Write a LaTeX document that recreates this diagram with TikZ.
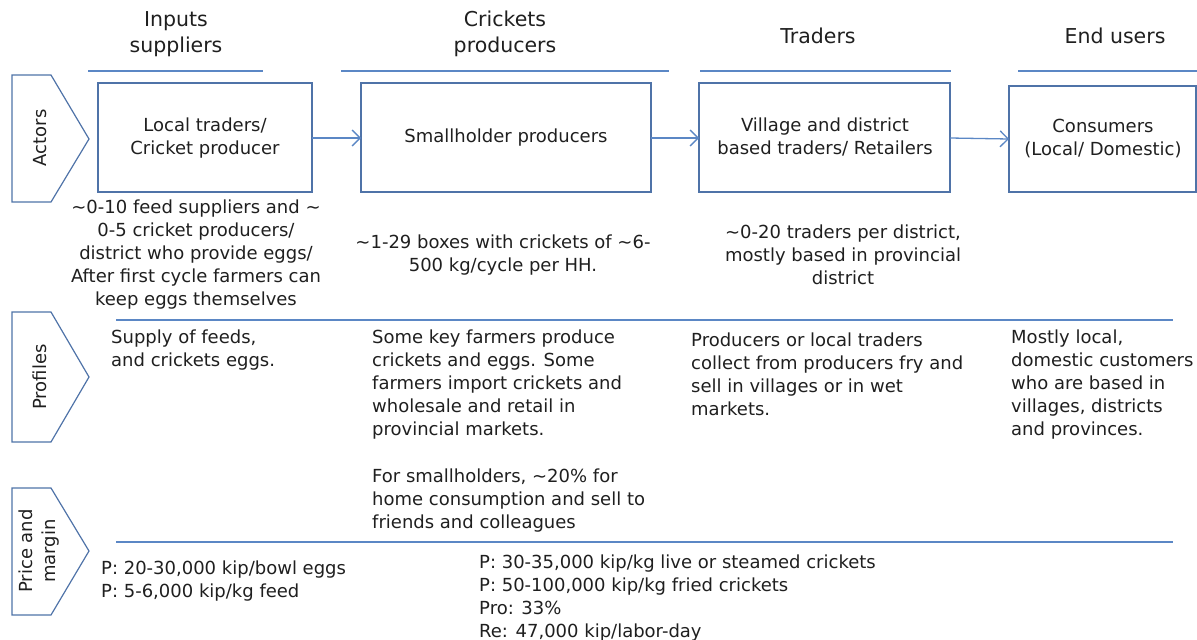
\documentclass[tikz,border=0pt]{standalone}
\usepackage{fontspec}
\setmainfont{DejaVu Sans}
\usetikzlibrary{arrows.meta}
\definecolor{rule}{HTML}{5B87C5}
\definecolor{edge}{HTML}{4F73A8}
\definecolor{ink}{HTML}{1F1F1F}
\begin{document}
\begin{tikzpicture}[x=1pt,y=-1pt,
  txt/.style={font=\fontsize{18}{23}\selectfont,text=ink,inner sep=0pt},
  head/.style={font=\fontsize{20.5}{26}\selectfont,text=ink,inner sep=0pt,align=center},
  ctxt/.style={txt,align=center},
  ltxt/.style={txt,align=left,anchor=north west},
  actor/.style={draw=edge,line width=1.3pt,inner sep=0pt},
  sep/.style={draw=rule,line width=1.3pt},
  flow/.style={draw=rule,line width=1.3pt,-{Straight Barb[length=8pt,width=16pt]}},
  chev/.style={draw=edge,line width=1.2pt},
  side/.style={txt,rotate=90,align=center}]
\useasboundingbox (0,0) rectangle (1197,640);

% column headings and their rules
\node[head] (h1) at (176,34) {Inputs\\suppliers};
\node[head] (h2) at (505,34) {Crickets\\producers};
\node[head] (h3) at (818,36) {Traders};
\node[head] (h4) at (1115,36) {End users};
\coordinate (r1a) at (88,71);  \coordinate (r1b) at (263,71);
\coordinate (r2a) at (341,71); \coordinate (r2b) at (669,71);
\coordinate (r3a) at (700,71); \coordinate (r3b) at (951,71);
\coordinate (r4a) at (1018,71); \coordinate (r4b) at (1197,71);
\draw[sep] (r1a) -- (r1b);
\draw[sep] (r2a) -- (r2b);
\draw[sep] (r3a) -- (r3b);
\draw[sep] (r4a) -- (r4b);

% row chevrons
\draw[chev] (12,75) -- (51,75) -- (89,139) -- (51,202) -- (12,202) -- cycle;
\draw[chev] (12,312) -- (51,312) -- (89,377) -- (51,442) -- (12,442) -- cycle;
\draw[chev] (12,488) -- (51,488) -- (89,551) -- (51,615) -- (12,615) -- cycle;
\node[side] (lab1) at (40,138) {Actors};
\node[side] (lab2) at (40,377) {Profiles};
\node[side] (lab3) at (39,551) {Price and\\margin};

% actor boxes
\path[actor] (98,83) rectangle (312,192);
\path[actor] (361,83) rectangle (651,192);
\path[actor] (699,83) rectangle (950,192);
\path[actor] (1009,86) rectangle (1196,192);
\coordinate (b1w) at (98,138);  \coordinate (b1e) at (312,138);
\coordinate (b2w) at (361,138); \coordinate (b2e) at (651,138);
\coordinate (b3w) at (699,138); \coordinate (b3e) at (950,138);
\coordinate (b4w) at (1009,139);
\node[ctxt] (a1) at (205,138) {Local traders/\\Cricket producer};
\node[ctxt] (a2) at (506,138) {Smallholder producers};
\node[ctxt] (a3) at (825,137) {Village and district\\based traders/ Retailers};
\node[ctxt] (a4) at (1103,139) {Consumers\\(Local/ Domestic)};
\draw[flow] (b1e) -- (b2w);
\draw[flow] (b2e) -- (b3w);
\draw[flow] (b3e) -- (b4w);

% counts below the boxes
\node[ctxt] (n1) at (196,255) {\textasciitilde0-10 feed suppliers and \textasciitilde\\0-5 cricket producers/\\district who provide eggs/\\After first cycle farmers can\\keep eggs themselves};
\node[ctxt] (n2) at (503,255) {\textasciitilde1-29 boxes with crickets of \textasciitilde6-\\500 kg/cycle per HH.};
\node[ctxt] (n3) at (843,255) {\textasciitilde0-20 traders per district,\\mostly based in provincial\\district};

% row separators
\coordinate (s1a) at (116,320); \coordinate (s1b) at (1173,320);
\coordinate (s2a) at (116,542); \coordinate (s2b) at (1173,542);
\draw[sep] (s1a) -- (s1b);
\draw[sep] (s2a) -- (s2b);

% profiles
\node[ltxt] (p1) at (111,330) {Supply of feeds,\\and crickets eggs.};
\node[ltxt] (p2) at (372,330) {Some key farmers produce\\crickets and eggs. Some\\farmers import crickets and\\wholesale and retail in\\provincial markets.};
\node[ltxt] (p2b) at (372,469) {For smallholders, \textasciitilde20\% for\\home consumption and sell to\\friends and colleagues};
\node[ltxt] (p3) at (691,333) {Producers or local traders\\collect from producers fry and\\sell in villages or in wet\\markets.};
\node[ltxt] (p4) at (1011,330) {Mostly local,\\domestic customers\\who are based in\\villages, districts\\and provinces.};

% prices and margins
\node[ltxt] (m1) at (101,561) {P: 20-30,000 kip/bowl eggs\\P: 5-6,000 kip/kg feed};
\node[ltxt] (m2) at (479,555) {P: 30-35,000 kip/kg live or steamed crickets\\P: 50-100,000 kip/kg fried crickets\\Pro: 33\%\\Re: 47,000 kip/labor-day};
\end{tikzpicture}
\end{document}
